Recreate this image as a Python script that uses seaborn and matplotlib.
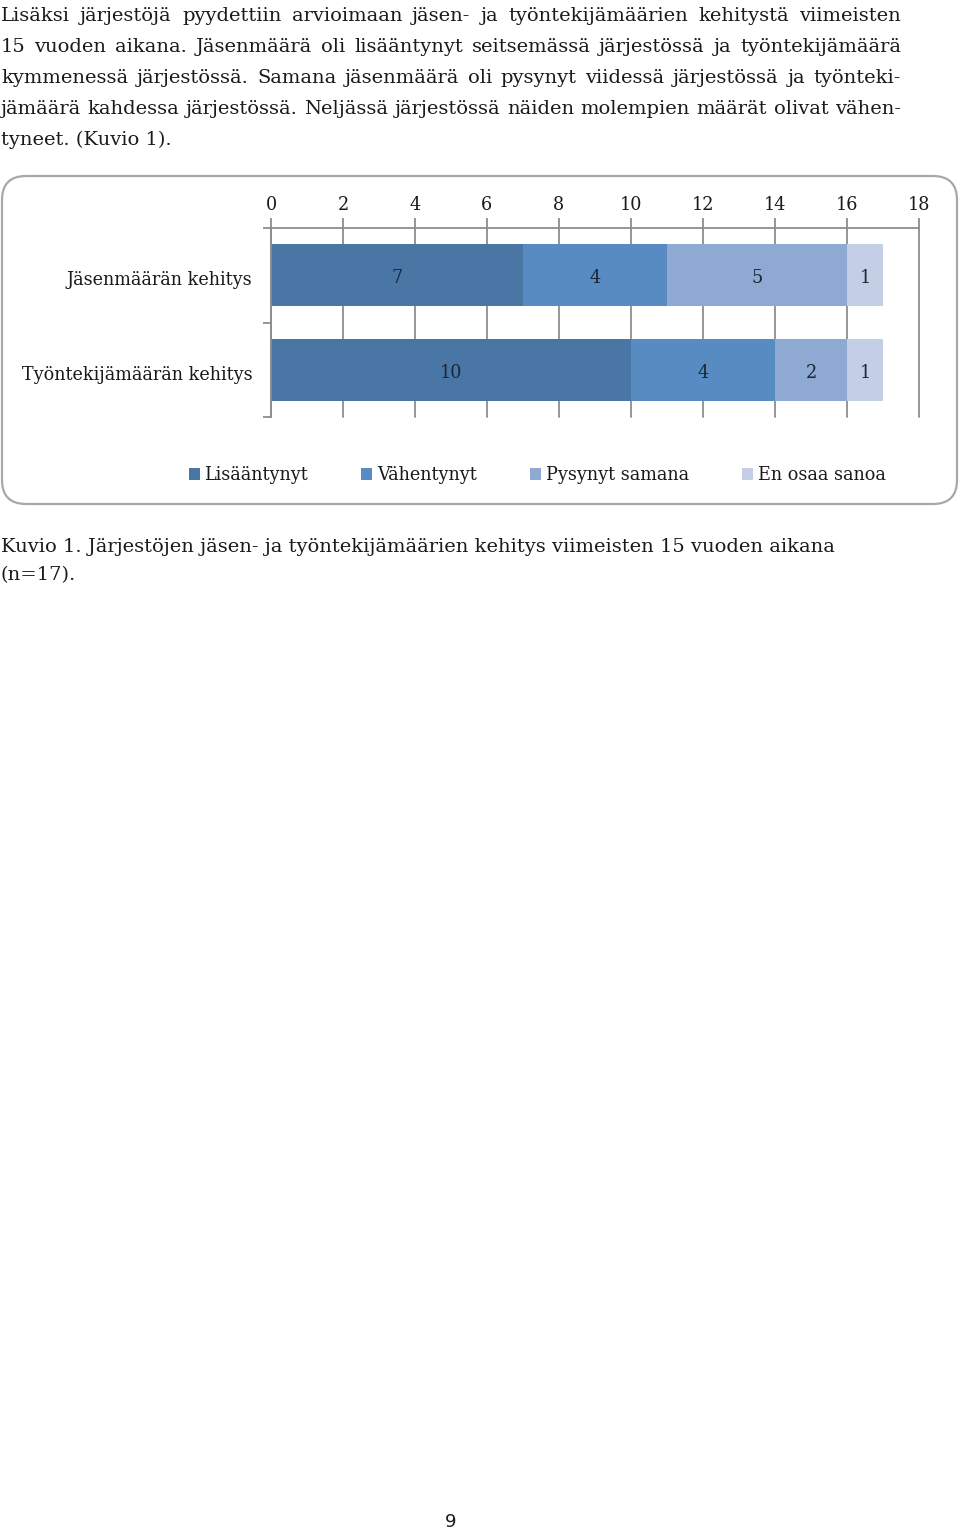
import numpy as np
import pandas as pd
import matplotlib
matplotlib.use("Agg")
import matplotlib.pyplot as plt
import seaborn as sns
from matplotlib.patches import FancyBboxPatch, Patch
from matplotlib.transforms import IdentityTransform, ScaledTranslation

# ---------------- data ----------------
categories = ["Jäsenmäärän kehitys", "Työntekijämäärän kehitys"]
series_names = ["Lisääntynyt", "Vähentynyt", "Pysynyt samana", "En osaa sanoa"]
lisaantynyt = [7, 10]
vahentynyt = [4, 4]
pysynyt_samana = [5, 2]
en_osaa_sanoa = [1, 1]
x_ticks = [0, 2, 4, 6, 8, 10, 12, 14, 16, 18]

body_lines = [
    "Lisäksi järjestöjä pyydettiin arvioimaan jäsen- ja työntekijämäärien kehitystä viimeisten",
    "15 vuoden aikana. Jäsenmäärä oli lisääntynyt seitsemässä järjestössä ja työntekijämäärä",
    "kymmenessä järjestössä. Samana jäsenmäärä oli pysynyt viidessä järjestössä ja työnteki-",
    "jämäärä kahdessa järjestössä. Neljässä järjestössä näiden molempien määrät olivat vähen-",
    "tyneet. (Kuvio 1).",
]
caption_lines = [
    "Kuvio 1. Järjestöjen jäsen- ja työntekijämäärien kehitys viimeisten 15 vuoden aikana",
    "(n=17).",
]
page_number = "9"

colors = ["#4A76A5", "#588BC1", "#8FAAD2", "#C4CEE4"]
grid_col = "#8E8E8E"
text_col = "#1A1A1A"
label_col = "#1B2636"

# ---------------- figure ----------------
sns.set_theme(style="white")
plt.rcParams["font.family"] = ["DejaVu Serif", "DejaVu Sans"]

W, H = 960, 1534
fig = plt.figure(figsize=(W / 100, H / 100), dpi=100)


def fx(x):
    return x / W


def fy(y):
    return 1 - y / H


# rounded frame around the chart
frame = FancyBboxPatch((2, H - 504), 955, 328,
                       boxstyle="round,pad=0,rounding_size=24",
                       transform=IdentityTransform(), fill=False,
                       edgecolor="#A8A8A8", linewidth=1.6)
fig.add_artist(frame)

ax = fig.add_axes([fx(271), fy(417), 648 / W, 189 / H])
ax.set_axisbelow(True)

series_vals = [lisaantynyt, vahentynyt, pysynyt_samana, en_osaa_sanoa]
cum = np.cumsum(np.array(series_vals), axis=0)

# draw cumulative bars from the longest to the shortest (stacked look)
for i in range(len(series_vals) - 1, -1, -1):
    df = pd.DataFrame({"category": categories, "value": cum[i]})
    sns.barplot(data=df, x="value", y="category", orient="h",
                color=colors[i], saturation=1, width=0.655,
                linewidth=0, ax=ax, zorder=2)

# small downward shift for text (Cambria-like vertical placement)
down = ScaledTranslation(0, -3 / 100, fig.dpi_scale_trans)

# segment labels
for i, vals in enumerate(series_vals):
    for j, v in enumerate(vals):
        center = cum[i][j] - v / 2
        ax.text(center, j, str(v), ha="center", va="center",
                fontsize=12.7, color=label_col, zorder=3,
                transform=ax.transData + down)

ax.set_xlim(0, 18)
ax.set_ylim(1.5, -0.5)
ax.set_xlabel("")
ax.set_ylabel("")
ax.xaxis.tick_top()
ax.set_xticks(x_ticks)
ax.set_xticklabels([str(t) for t in x_ticks])
ax.tick_params(axis="x", which="major", direction="out", length=7,
               width=1.3, color=grid_col, pad=3, labelsize=12.7,
               labelcolor=text_col, top=True, bottom=False)
ax.grid(axis="x", color=grid_col, linewidth=1.3, zorder=0)
ax.grid(axis="y", visible=False)
for gl in ax.get_xgridlines():
    gl.set_clip_on(False)

ax.set_yticks([0, 1])
ax.set_yticklabels(categories)
ax.tick_params(axis="y", which="major", length=0, pad=13.5,
               labelsize=12.7, labelcolor=text_col)
for lab in ax.get_yticklabels():
    lab.set_transform(lab.get_transform() + down)
ax.set_yticks([-0.5, 0.5, 1.5], minor=True)
ax.tick_params(axis="y", which="minor", length=6, width=1.3,
               color=grid_col, left=True)

for s in ["right", "bottom"]:
    ax.spines[s].set_visible(False)
for s in ["top", "left"]:
    ax.spines[s].set_color(grid_col)
    ax.spines[s].set_linewidth(1.3)

# legend
handles = [Patch(facecolor=c, edgecolor="none") for c in colors]
fig.legend(handles, series_names, loc="center",
           bbox_to_anchor=(fx(537), fy(475)), ncol=4, frameon=False,
           fontsize=12.7, handlelength=0.62, handleheight=0.62,
           handletextpad=0.28, columnspacing=3.0, labelcolor=text_col)

# ---------------- body text ----------------
renderer = fig.canvas.get_renderer()
body_size = 14.0


def put_line(text, x0, y_base, size, justify_to=None):
    if justify_to is None:
        fig.text(fx(x0), fy(y_base), text, fontsize=size, color=text_col,
                 ha="left", va="baseline")
        return
    words = text.split(" ")
    arts = [fig.text(0, 0, w, fontsize=size, color=text_col,
                     ha="left", va="baseline") for w in words]
    widths = [a.get_window_extent(renderer).width for a in arts]
    gap = (justify_to - x0 - sum(widths)) / (len(words) - 1)
    x = x0
    for a, w in zip(arts, widths):
        a.set_position((fx(x), fy(y_base)))
        x += w + gap


body_baselines = [21, 52, 83, 114, 145]
for k, (line, yb) in enumerate(zip(body_lines, body_baselines)):
    put_line(line, 1, yb, body_size,
             justify_to=None if k == len(body_lines) - 1 else 901)

caption_baselines = [552, 580]
for line, yb in zip(caption_lines, caption_baselines):
    put_line(line, 1, yb, body_size)

fig.text(fx(451), fy(1522), page_number, fontsize=13, color=text_col,
         ha="center", va="center", family="DejaVu Sans")

fig.savefig("out.png", dpi=100)
